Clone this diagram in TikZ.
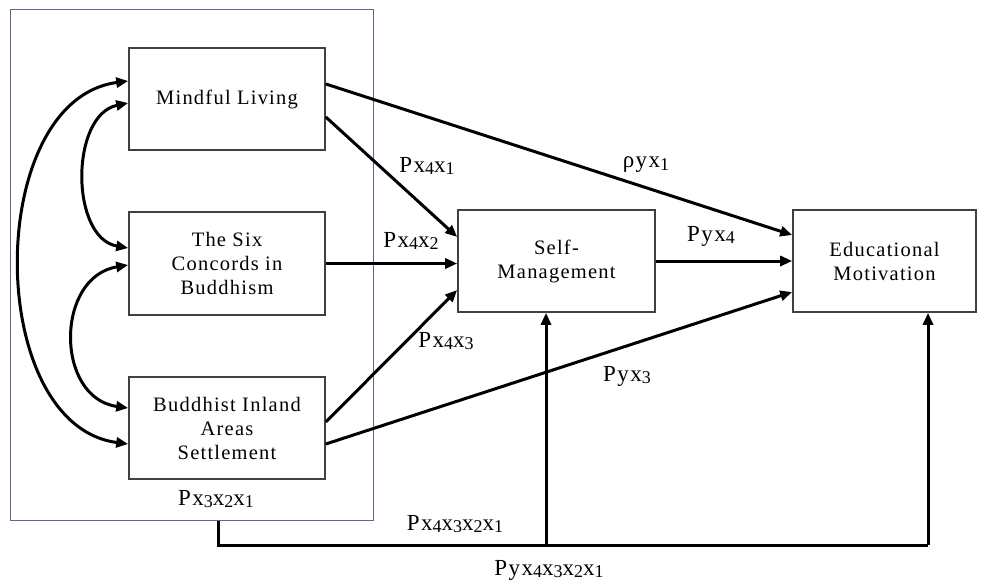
\documentclass[tikz,border=0pt]{standalone}
\usepackage{fontspec}
\setmainfont{Liberation Serif}[LetterSpace=6]
\usetikzlibrary{arrows.meta}
\definecolor{frameblue}{RGB}{84,106,138}
\newcommand\lsub[1]{\raisebox{-0.25ex}{\fontsize{18}{18}\selectfont #1}}
\begin{document}
\begin{tikzpicture}[x=1pt,y=-1pt,
  varbox/.style={draw=black!75, line width=1.6pt, fill=white, align=center,
    inner sep=0pt, font=\fontsize{20.5}{24}\selectfont},
  arr/.style={line width=3pt, -{Triangle[length=12pt,width=10pt]}},
  corr/.style={line width=3pt, {Triangle[length=12pt,width=10pt]}-{Triangle[length=12pt,width=10pt]}},
  coef/.style={inner sep=1pt, font=\fontsize{23}{23}\selectfont}]
\useasboundingbox (0,0) rectangle (981,586);

% exogenous group frame
\node[draw=frameblue, line width=1pt, minimum width=363pt, minimum height=510pt, inner sep=0pt]
  (grp) at (191.5,265) {};

% variables
\node[varbox, minimum width=196pt, minimum height=102pt] (ML) at (227,99) {Mindful Living};
\node[varbox, minimum width=196pt, minimum height=103pt] (SIX) at (227,263.5)
  {The Six\\Concords in\\Buddhism};
\node[varbox, minimum width=196pt, minimum height=102pt] (BUD) at (227,428)
  {Buddhist Inland\\Areas\\Settlement};
\node[varbox, minimum width=197pt, minimum height=102pt] (SM) at (556.5,261)
  {Self-\\Management};
\node[varbox, minimum width=183pt, minimum height=102pt] (EM) at (884.5,261)
  {Educational\\Motivation};

% correlations among the exogenous variables
\draw[corr] ([yshift=18pt]ML.west) .. controls (-16,100) and (-16,425) .. ([yshift=-16pt]BUD.west);
\draw[corr] ([yshift=-4pt]ML.west) .. controls (70,115) and (70,238) .. ([yshift=15.5pt]SIX.west);
\draw[corr] ([yshift=-1.5pt]SIX.west) .. controls (55,277) and (55,398) .. ([yshift=20pt]BUD.west);

% direct paths
\draw[arr] ([yshift=15pt]ML.east) -- ([yshift=26pt]EM.west);
\draw[arr] ([yshift=-18pt]ML.east) -- ([yshift=24pt]SM.west);
\draw[arr] (SIX.east) -- (SIX.east -| SM.west);
\draw[arr] ([yshift=6pt]BUD.east) -- ([yshift=-29pt]SM.west);
\draw[arr] ([yshift=-16pt]BUD.east) -- ([yshift=-31pt]EM.west);
\draw[arr] (SM.east) -- (SM.east -| EM.west);

% joint effect of the group
\coordinate (jSM) at (546,545);
\coordinate (jEM) at (928,545);
\draw[line width=3pt] ([xshift=26.5pt]grp.south) |- (jEM);
\draw[arr] (jEM) -- (jEM |- EM.south);
\draw[arr] (jSM) -- (jSM |- SM.south);

% path coefficients
\node[coef] (c41) at (427,166) {Px\lsub{4}x\lsub{1}};
\node[coef] (cy1) at (646,165) {ρyx\lsub{1}};
\node[coef] (c42) at (411,241) {Px\lsub{4}x\lsub{2}};
\node[coef] (cy4) at (711,236) {Pyx\lsub{4}};
\node[coef] (c43) at (446,341) {Px\lsub{4}x\lsub{3}};
\node[coef] (cy3) at (627,376) {Pyx\lsub{3}};
\node[coef] (c321) at (216,499) {Px\lsub{3}x\lsub{2}x\lsub{1}};
\node[coef] (c4321) at (455,524) {Px\lsub{4}x\lsub{3}x\lsub{2}x\lsub{1}};
\node[coef] (cy4321) at (549,570) {Pyx\lsub{4}x\lsub{3}x\lsub{2}x\lsub{1}};
\end{tikzpicture}
\end{document}
